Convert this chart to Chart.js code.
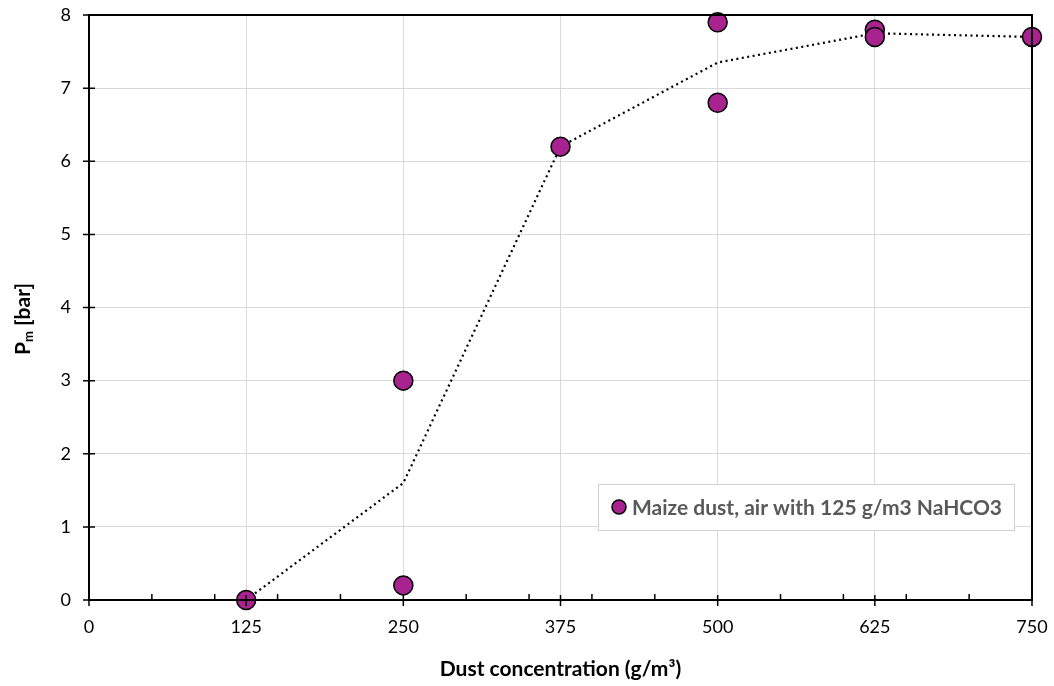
<!DOCTYPE html>
<html>
<head>
<meta charset="utf-8">
<script src="https://cdn.jsdelivr.net/npm/chart.js@4/dist/chart.umd.min.js"></script>
<style>
  html, body { margin: 0; padding: 0; background: #fff; }
  #wrap { width: 1054px; height: 686px; }
</style>
</head>
<body>
<div id="wrap"><canvas id="pmChart"></canvas></div>
<script>
// measured points: dust concentration (g/m3) and Pm (bar)
const concentration = [125, 250, 250, 375, 500, 500, 625, 625, 750];
const pressure = [0, 3, 0.2, 6.2, 7.9, 6.8, 7.8, 7.7, 7.7];

// trend line through the mean value at each concentration
const trendConc = [125, 250, 375, 500, 625, 750];
const trendPm = [0, 1.6, 6.2, 7.35, 7.75, 7.7];

const xTicks = [0, 125, 250, 375, 500, 625, 750];
const xMinorTicks = [50, 100, 150, 200, 300, 350, 400, 450, 550, 600, 650, 700];
const yTicks = [0, 1, 2, 3, 4, 5, 6, 7, 8];

const seriesLabel = 'Maize dust, air with 125 g/m3 NaHCO3';
const markerColor = '#A8238F';
const FONT = 'Lato, "Open Sans", sans-serif';

const frame = {
  id: 'frame',
  afterDraw(chart) {
    const { ctx, chartArea: a, scales: { x, y } } = chart;
    ctx.save();
    ctx.strokeStyle = '#000';
    ctx.lineWidth = 2;
    // box round the plot
    ctx.strokeRect(a.left, a.top, a.right - a.left, a.bottom - a.top);

    // major ticks cross the axes, minor ticks sit inside
    ctx.lineWidth = 1.5;
    ctx.beginPath();
    xTicks.forEach(v => {
      const px = x.getPixelForValue(v);
      ctx.moveTo(px, a.bottom - 5);
      ctx.lineTo(px, a.bottom + 6);
    });
    xMinorTicks.forEach(v => {
      const px = x.getPixelForValue(v);
      ctx.moveTo(px, a.bottom);
      ctx.lineTo(px, a.bottom - 6);
    });
    yTicks.forEach(v => {
      const py = y.getPixelForValue(v);
      ctx.moveTo(a.left - 6, py);
      ctx.lineTo(a.left + 6, py);
    });
    ctx.stroke();

    // axis titles
    ctx.fillStyle = '#000';
    ctx.font = 'bold 21px ' + FONT;
    ctx.textAlign = 'center';
    ctx.textBaseline = 'middle';
    ctx.fillText('Dust concentration (g/m³)', (a.left + a.right) / 2, 669);

    ctx.translate(23, 319);
    ctx.rotate(-Math.PI / 2);
    const pW = ctx.measureText('P').width;
    ctx.font = 'bold 13px ' + FONT;
    const mW = ctx.measureText('m').width;
    ctx.font = 'bold 21px ' + FONT;
    const restW = ctx.measureText(' [bar]').width;
    let sx = -(pW + mW + restW) / 2;
    ctx.textAlign = 'left';
    ctx.fillText('P', sx, 0);
    sx += pW;
    ctx.font = 'bold 13px ' + FONT;
    ctx.fillText('m', sx, 6);
    sx += mW;
    ctx.font = 'bold 21px ' + FONT;
    ctx.fillText(' [bar]', sx, 0);
    ctx.restore();

    // legend box
    ctx.save();
    const lx = 598, ly = 484, lw = 416, lh = 46;
    ctx.fillStyle = '#fff';
    ctx.fillRect(lx, ly, lw, lh);
    ctx.strokeStyle = '#d0d0d0';
    ctx.lineWidth = 1;
    ctx.strokeRect(lx + 0.5, ly + 0.5, lw, lh);
    ctx.beginPath();
    ctx.arc(lx + 21, ly + 23, 7, 0, Math.PI * 2);
    ctx.fillStyle = markerColor;
    ctx.fill();
    ctx.lineWidth = 1.5;
    ctx.strokeStyle = '#000';
    ctx.stroke();
    ctx.fillStyle = '#595959';
    ctx.font = 'bold 21px ' + FONT;
    ctx.textAlign = 'left';
    ctx.textBaseline = 'middle';
    ctx.fillText(seriesLabel, lx + 34, ly + 24);
    ctx.restore();
  }
};

new Chart(document.getElementById('pmChart'), {
  type: 'scatter',
  data: {
    datasets: [
      {
        label: seriesLabel,
        data: concentration.map((c, i) => ({ x: c, y: pressure[i] })),
        backgroundColor: markerColor,
        borderColor: '#000',
        borderWidth: 1.5,
        pointRadius: 9.5,
        clip: false
      },
      {
        label: 'trend',
        data: trendConc.map((c, i) => ({ x: c, y: trendPm[i] })),
        showLine: true,
        borderColor: '#000',
        borderWidth: 2.2,
        borderDash: [2, 3.5],
        pointRadius: 0,
        clip: false
      }
    ]
  },
  options: {
    responsive: true,
    maintainAspectRatio: false,
    animation: false,
    events: [],
    layout: { padding: { top: 15, right: 22, left: 0, bottom: 0 } },
    plugins: {
      legend: { display: false },
      tooltip: { enabled: false }
    },
    scales: {
      x: {
        type: 'linear',
        min: 0,
        max: 750,
        afterBuildTicks: s => { s.ticks = xTicks.map(v => ({ value: v })); },
        afterFit: s => { s.height = 86; s.paddingLeft = 0; s.paddingRight = 0; },
        ticks: { padding: 16, color: '#000', font: { family: FONT, size: 18 } },
        grid: {
          drawTicks: false,
          color: c => (c.tick && (c.tick.value === 0 || c.tick.value === 750)) ? 'rgba(0,0,0,0)' : '#d9d9d9',
          lineWidth: 1
        },
        border: { display: false }
      },
      y: {
        min: 0,
        max: 8,
        afterBuildTicks: s => { s.ticks = yTicks.map(v => ({ value: v })); },
        afterFit: s => { s.width = 89; s.paddingTop = 0; s.paddingBottom = 0; },
        ticks: { padding: 18, color: '#000', font: { family: FONT, size: 18 } },
        grid: {
          drawTicks: false,
          color: c => (c.tick && (c.tick.value === 0 || c.tick.value === 8)) ? 'rgba(0,0,0,0)' : '#d9d9d9',
          lineWidth: 1
        },
        border: { display: false }
      }
    }
  },
  plugins: [frame]
});
</script>
</body>
</html>
